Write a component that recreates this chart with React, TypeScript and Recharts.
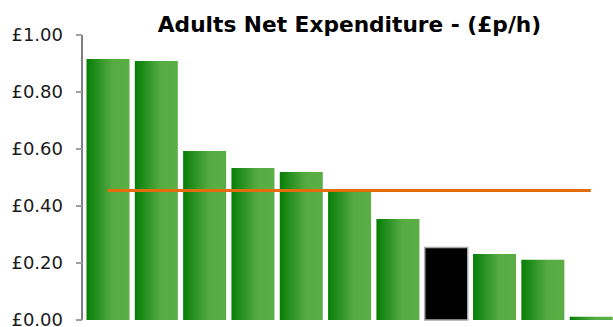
import { Bar, Cell, ComposedChart, Line, XAxis, YAxis } from "recharts"

const categories = ["1", "2", "3", "4", "5", "6", "7", "8", "9", "10", "11"]
const expenditure = [0.916, 0.909, 0.593, 0.533, 0.519, 0.46, 0.354, 0.254, 0.232, 0.211, 0.011]
const average = 0.454
const highlighted = "8"
const yTicks = [0, 0.2, 0.4, 0.6, 0.8, 1]

const data = categories.map((name, i) => ({
  name,
  value: expenditure[i],
  avg: average,
}))

const font = "Verdana, 'DejaVu Sans', sans-serif"

export default function App() {
  return (
    <div style={{ position: "fixed", left: 0, top: 0, width: 613, height: 327, overflow: "hidden", background: "#fff" }}>
      <div
        style={{
          position: "absolute",
          left: 0,
          top: 14,
          width: 699,
          textAlign: "center",
          fontFamily: font,
          fontWeight: "bold",
          fontSize: 21.7,
          lineHeight: "21px",
          color: "#000",
        }}
      >
        Adults Net Expenditure - (£p/h)
      </div>
      <ComposedChart width={620} height={327} data={data} margin={{ top: 35, right: 5, bottom: 7, left: 0 }}>
        <defs>
          <linearGradient id="greenBar" x1="0" y1="0" x2="1" y2="0">
            <stop offset="0%" stopColor="#067e06" />
            <stop offset="60%" stopColor="#56ab43" />
            <stop offset="100%" stopColor="#5bae46" />
          </linearGradient>
        </defs>
        <XAxis dataKey="name" tick={false} tickLine={false} axisLine={{ stroke: "#000" }} height={0} padding={{ left: 1.5, right: 0 }} />
        <YAxis
          domain={[0, 1]}
          ticks={yTicks}
          width={82}
          interval={0}
          tickFormatter={(v: number) => `£${v.toFixed(2)}`}
          tick={{ fill: "#1a1a1a", fontSize: 18, fontFamily: font }}
          tickLine={{ stroke: "#a0a0a0", strokeWidth: 2 }}
          tickSize={6}
          tickMargin={13}
          axisLine={{ stroke: "#000" }}
        />
        <Bar dataKey="value" barSize={43} isAnimationActive={false}>
          {data.map((d) =>
            d.name === highlighted ? (
              <Cell key={d.name} fill="#000" stroke="#aaaaaa" strokeWidth={1.5} />
            ) : (
              <Cell key={d.name} fill="url(#greenBar)" />
            )
          )}
        </Bar>
        <Line dataKey="avg" stroke="#e46c0a" strokeWidth={3} dot={false} activeDot={false} isAnimationActive={false} />
      </ComposedChart>
    </div>
  )
}
